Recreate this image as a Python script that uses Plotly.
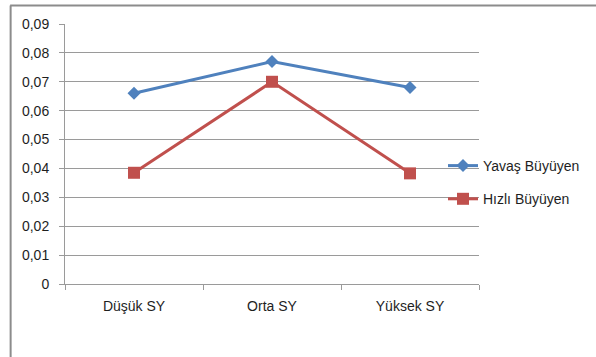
import plotly.graph_objects as go

categories = ["Düşük SY", "Orta SY", "Yüksek SY"]
yavas_buyuyen = [0.066, 0.077, 0.068]
hizli_buyuyen = [0.0385, 0.070, 0.0383]
y_ticks = [0, 0.01, 0.02, 0.03, 0.04, 0.05, 0.06, 0.07, 0.08, 0.09]
y_tick_labels = ["0", "0,01", "0,02", "0,03", "0,04", "0,05", "0,06", "0,07", "0,08", "0,09"]

BLUE = "#4F81BD"
RED = "#C0504D"
GRID = "#9A9A9A"
TEXT = "#1E1E1E"
FONT = "Liberation Sans"

fig = go.Figure()
fig.add_trace(go.Scatter(
    x=categories, y=yavas_buyuyen, name="Yavaş Büyüyen",
    legendgroup="a",
    mode="lines+markers",
    line=dict(color=BLUE, width=3),
    marker=dict(symbol="diamond", size=10, color=BLUE),
))
fig.add_trace(go.Scatter(
    x=categories, y=hizli_buyuyen, name="Hızlı Büyüyen",
    legendgroup="b",
    mode="lines+markers",
    line=dict(color=RED, width=3),
    marker=dict(symbol="square", size=12, color=RED),
))

fig.update_layout(
    width=596, height=357,
    margin=dict(l=65, r=116, t=24, b=73),
    paper_bgcolor="white", plot_bgcolor="white",
    font=dict(family=FONT, size=14, color=TEXT),
    showlegend=True,
    legend=dict(
        x=(443 - 65) / 415, y=(284 - 182.5) / 260, xanchor="left", yanchor="middle",
        font=dict(family=FONT, size=14, color=TEXT),
        itemwidth=30, traceorder="grouped", tracegroupgap=12,
        bgcolor="rgba(0,0,0,0)", borderwidth=0,
    ),
    xaxis=dict(
        type="category", range=[-0.5, 2.5],
        showline=True, linecolor=GRID, linewidth=1,
        ticks="outside", ticklen=5, tickcolor=GRID, tickson="boundaries",
        showgrid=False, zeroline=False,
        tickfont=dict(family=FONT, size=14, color=TEXT),
        ticklabelstandoff=9,
    ),
    yaxis=dict(
        range=[0, 0.09], tickvals=y_ticks, ticktext=y_tick_labels,
        showline=True, linecolor=GRID, linewidth=1,
        ticks="outside", ticklen=5, tickcolor=GRID,
        showgrid=True, gridcolor=GRID, gridwidth=1,
        zeroline=False,
        tickfont=dict(family=FONT, size=14, color=TEXT),
        ticklabelstandoff=7,
    ),
    shapes=[
        # chart frame: top edge and left edge
        dict(type="line", xref="paper", yref="paper",
             x0=(10 - 65) / 415, x1=(600 - 65) / 415, y0=(284 - 5.5) / 260, y1=(284 - 5.5) / 260,
             line=dict(color="#8C8C8C", width=2), layer="below"),
        dict(type="line", xref="paper", yref="paper",
             x0=(10.5 - 65) / 415, x1=(10.5 - 65) / 415, y0=(284 - 5.5) / 260, y1=(284 - 360) / 260,
             line=dict(color="#8C8C8C", width=2), layer="below"),
    ],
)

fig.write_html("out.html")
